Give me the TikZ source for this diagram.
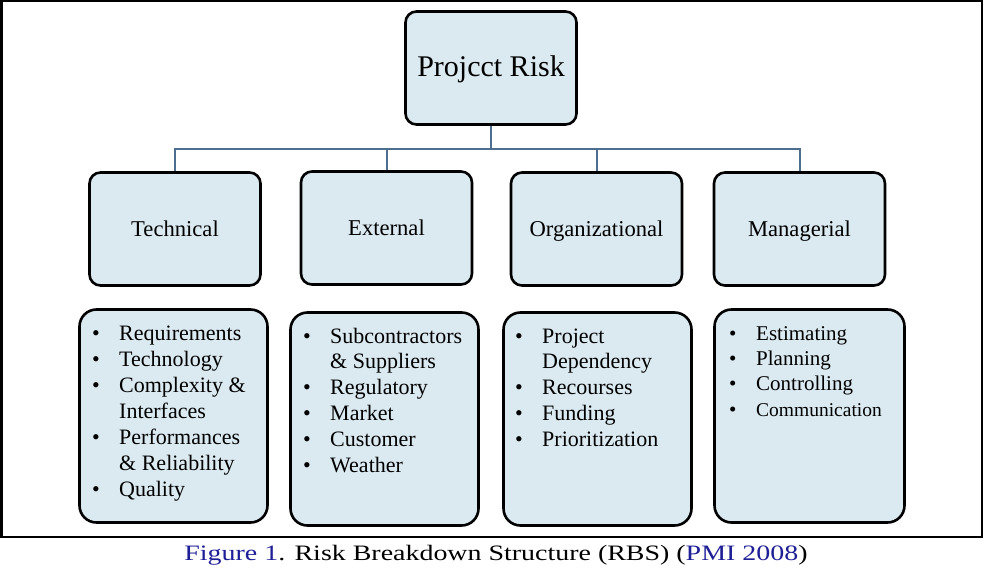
\documentclass[tikz,border=0pt]{standalone}
\usepackage{fontspec}
\setmainfont{Liberation Serif}
\usepackage{graphicx}
\definecolor{boxfill}{RGB}{219,234,241}
\definecolor{connc}{RGB}{78,110,143}
\definecolor{capblue}{RGB}{30,30,150}
\newcommand{\bul}{\makebox[27pt][l]{•}}
\newcommand{\ind}{\hspace*{27pt}}
\begin{document}
\begin{tikzpicture}[x=1pt,y=-1pt,
  box/.style={draw=black, line width=2.6pt, fill=boxfill, inner sep=0pt},
  headbox/.style={box, rounded corners=11pt, minimum width=171pt, minimum height=113pt},
  listbox/.style={box, rounded corners=17pt, minimum width=188pt, minimum height=213pt},
  conn/.style={draw=connc, line width=2pt},
  listtext/.style={anchor=north west, inner sep=0pt, align=left},
  frame/.style={draw=black, line width=2.5pt}]
\useasboundingbox (0,0) rectangle (984,570);
\draw[frame] (1.25,1) rectangle (982,537);

% root
\node[headbox, font=\fontsize{30}{34}\selectfont, text height=16pt, text depth=0pt] (root) at (491,68) {Projcct Risk};

% level 2
\begin{scope}[every node/.style={headbox, font=\fontsize{22.6}{26}\selectfont, text height=14pt, text depth=0pt}]
\node (tech) at (175,229) {Technical};
\node (ext) at (386.5,228) {External};
\node (org) at (596.5,229) {Organizational};
\node (mgr) at (799.5,229) {Managerial};
\end{scope}

% connectors
\coordinate (bar) at (491,149);
\draw[conn] (root.south) -- (bar);
\draw[conn] (tech.north) -- (tech.north |- bar) -- (mgr.north |- bar) -- (mgr.north);
\draw[conn] (ext.north) -- (ext.north |- bar);
\draw[conn] (org.north) -- (org.north |- bar);

% list boxes
\node[listbox] (tl) at (173.5,416) {};
\node[listbox] (el) at (384.5,419) {};
\node[listbox] (ol) at (597.5,419) {};
\node[listbox, minimum width=190pt] (ml) at (809.5,416) {};

% list texts
\node[listtext, font=\fontsize{22}{26}\selectfont] (tlt) at (92,321.8) {\begin{tabular}{@{}l@{}}
\bul Requirements\\
\bul Technology\\
\bul Complexity \&\\
\ind Interfaces\\
\bul Performances\\
\ind \& Reliability\\
\bul Quality
\end{tabular}};

\node[listtext, font=\fontsize{22}{25.8}\selectfont] (elt) at (303,324.9) {\begin{tabular}{@{}l@{}}
\bul Subcontractors\\
\ind \& Suppliers\\
\bul Regulatory\\
\bul Market\\
\bul Customer\\
\bul Weather
\end{tabular}};

\node[listtext, font=\fontsize{22}{25.8}\selectfont] (olt) at (515,324.9) {\begin{tabular}{@{}l@{}}
\bul Project\\
\ind Dependency\\
\bul Recourses\\
\bul Funding\\
\bul Prioritization
\end{tabular}};

\node[listtext, font=\fontsize{21}{25.3}\selectfont] (mlt) at (729,322.3) {\begin{tabular}{@{}l@{}}
\bul Estimating\\
\bul Planning\\
\bul Controlling\\
\bul {\fontsize{19.5}{25.3}\selectfont Communication}
\end{tabular}};

% caption
\node[anchor=base, inner sep=0pt, font=\fontsize{22}{26}\selectfont] (cap) at (496,560)
  {\scalebox{1.27}[1]{\textcolor{capblue}{Figure 1}. Risk Breakdown Structure (RBS) (\textcolor{capblue}{PMI 2008})}};
\end{tikzpicture}
\end{document}
